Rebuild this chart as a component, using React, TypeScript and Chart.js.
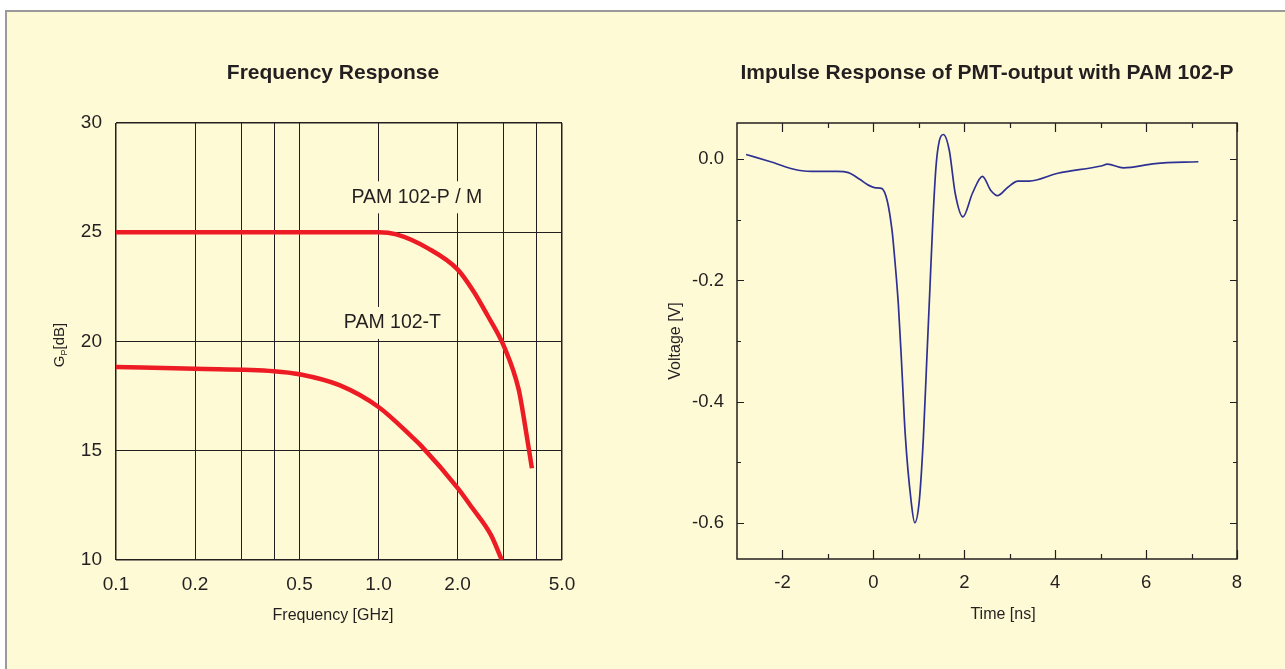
import React, { useEffect, useRef } from "react";
import { Chart, registerables } from "chart.js";

Chart.register(...registerables);

// ---------- data: frequency response ----------
const freqPM = [0.1, 0.2, 0.5, 1.0, 1.17, 1.55, 2.0, 2.3, 2.6, 3.0, 3.42, 3.6, 3.84];
const gainPM = [25, 25, 25, 25, 24.9, 24.25, 23.3, 22.3, 21.2, 19.8, 17.8, 16.3, 14.2];
const freqT = [0.1, 0.2, 0.4, 0.5, 0.71, 1.0, 1.35, 1.46, 2.0, 2.27, 2.68, 2.95];
const gainT = [18.83, 18.75, 18.64, 18.5, 18.0, 17.0, 15.6, 15.2, 13.3, 12.4, 11.15, 10.0];
const freqGrid = [0.1, 0.2, 0.3, 0.4, 0.5, 1, 2, 3, 4, 5];
const freqLabeled = [0.1, 0.2, 0.5, 1, 2, 5];
const gainTicks = [10, 15, 20, 25, 30];
const labelPM = { text: "PAM 102-P / M", f: 1.4, g: 26.6 };
const labelT = { text: "PAM 102-T", f: 1.13, g: 20.85 };

// ---------- data: impulse response ----------
const timeNs = [
  -2.8, -2.26, -1.65, -1.21, -0.8, -0.55, -0.3, -0.1, 0.05, 0.18, 0.31, 0.41, 0.44, 0.55, 0.62, 0.7,
  0.83, 0.91, 1.01, 1.1, 1.17, 1.24, 1.31, 1.38, 1.45, 1.54, 1.67, 1.8, 1.97, 2.18, 2.4, 2.58, 2.73,
  2.96, 3.18, 3.43, 4.06, 5.01, 5.15, 5.5, 6.2, 7.15,
];
const voltV = [
  0.008, -0.004, -0.018, -0.02, -0.02, -0.022, -0.033, -0.043, -0.047, -0.048, -0.07, -0.117, -0.139,
  -0.24, -0.335, -0.453, -0.564, -0.6, -0.564, -0.46, -0.34, -0.22, -0.1, -0.01, 0.03, 0.041, 0.015,
  -0.056, -0.095, -0.056, -0.028, -0.051, -0.06, -0.046, -0.036, -0.036, -0.023, -0.011, -0.008,
  -0.014, -0.007, -0.004,
];
const timeMajor = [-2, 0, 2, 4, 6, 8];
const timeMinor = [-1, 1, 3, 5, 7];
const voltMajor = [-0.6, -0.4, -0.2, 0];
const voltMinor = [-0.5, -0.3, -0.1];

const YELLOW = "#fffad6";
const INK = "#231f20";
const RED = "#ed1c24";
const BLUE = "#2e3192";
const FF = '"Liberation Sans", Arial, Helvetica, sans-serif';

function drawText(ctx: CanvasRenderingContext2D, text: string, x: number, y: number, font: string, rot = 0) {
  ctx.save();
  ctx.translate(x, y);
  if (rot) ctx.rotate(rot);
  ctx.font = font;
  ctx.fillStyle = INK;
  ctx.textAlign = "center";
  ctx.textBaseline = "middle";
  ctx.fillText(text, 0, 0);
  ctx.restore();
}

const leftPlugin = {
  id: "leftDeco",
  beforeDatasetsDraw(chart: any) {
    const ctx = chart.ctx as CanvasRenderingContext2D;
    const xs = chart.scales.x;
    const ys = chart.scales.y;
    for (const l of [labelPM, labelT]) {
      const cx = xs.getPixelForValue(l.f);
      const cy = ys.getPixelForValue(l.g);
      ctx.save();
      ctx.font = `19.5px ${FF}`;
      const w = ctx.measureText(l.text).width + 16;
      ctx.fillStyle = YELLOW;
      ctx.fillRect(cx - w / 2, cy - 16, w, 32);
      ctx.restore();
      drawText(ctx, l.text, cx, cy, `19.5px ${FF}`);
    }
  },
  afterDraw(chart: any) {
    const ctx = chart.ctx as CanvasRenderingContext2D;
    const a = chart.chartArea;
    const cx = (a.left + a.right) / 2;
    drawText(ctx, "Frequency Response", cx - 6, 73, `bold 21px ${FF}`);
    drawText(ctx, "Frequency [GHz]", cx - 6, 616, `16px ${FF}`);
    // G_P[dB] rotated with subscript
    ctx.save();
    ctx.translate(59, 345);
    ctx.rotate(-Math.PI / 2);
    ctx.fillStyle = INK;
    ctx.textBaseline = "alphabetic";
    ctx.textAlign = "left";
    const big = `15px ${FF}`;
    const small = `9px ${FF}`;
    ctx.font = big;
    const wG = ctx.measureText("G").width;
    const wB = ctx.measureText("[dB]").width;
    ctx.font = small;
    const wP = ctx.measureText("P").width;
    let x0 = -(wG + wP + wB) / 2;
    const base = 5;
    ctx.font = big;
    ctx.fillText("G", x0, base);
    x0 += wG;
    ctx.font = small;
    ctx.fillText("P", x0, base + 3);
    x0 += wP;
    ctx.font = big;
    ctx.fillText("[dB]", x0, base);
    ctx.restore();
  },
};

const rightPlugin = {
  id: "rightDeco",
  afterDraw(chart: any) {
    const ctx = chart.ctx as CanvasRenderingContext2D;
    const a = chart.chartArea;
    const xs = chart.scales.x;
    const ys = chart.scales.y;
    ctx.save();
    ctx.strokeStyle = INK;
    ctx.lineWidth = 1.5;
    ctx.strokeRect(a.left, a.top, a.right - a.left, a.bottom - a.top);
    ctx.lineWidth = 1.2;
    ctx.beginPath();
    const tx = (vals: number[], len: number) => {
      for (const v of vals) {
        const px = Math.round(xs.getPixelForValue(v)) + 0.5;
        ctx.moveTo(px, a.bottom);
        ctx.lineTo(px, a.bottom - len);
        ctx.moveTo(px, a.top);
        ctx.lineTo(px, a.top + len);
      }
    };
    const ty = (vals: number[], len: number) => {
      for (const v of vals) {
        const py = Math.round(ys.getPixelForValue(v)) + 0.5;
        ctx.moveTo(a.left, py);
        ctx.lineTo(a.left + len, py);
        ctx.moveTo(a.right, py);
        ctx.lineTo(a.right - len, py);
      }
    };
    tx(timeMajor, 9);
    tx(timeMinor, 5);
    ty(voltMajor, 7);
    ty(voltMinor, 4);
    ctx.stroke();
    ctx.restore();
    const cx = (a.left + a.right) / 2;
    drawText(ctx, "Impulse Response of PMT-output with PAM 102-P", cx, 73, `bold 21px ${FF}`);
    drawText(ctx, "Time [ns]", cx + 16, 615, `16px ${FF}`);
    drawText(ctx, "Voltage [V]", 36, 341, `16px ${FF}`, -Math.PI / 2);
  },
};

export default function App() {
  const leftRef = useRef<HTMLCanvasElement>(null);
  const rightRef = useRef<HTMLCanvasElement>(null);

  useEffect(() => {
    document.body.style.margin = "0";
    document.body.style.overflow = "hidden";
    const tickFont = { family: FF, size: 19 };
    const edgeW = (edges: number[]) => (c: any) => (c.tick && edges.includes(c.tick.value) ? 1.5 : 1);

    const left = new Chart(leftRef.current!, {
      type: "line",
      data: {
        datasets: [
          {
            label: "PAM 102-P / M",
            data: freqPM.map((f, i) => ({ x: f, y: gainPM[i] })),
            borderColor: RED,
            borderWidth: 4.5,
            pointRadius: 0,
            cubicInterpolationMode: "monotone",
            fill: false,
          },
          {
            label: "PAM 102-T",
            data: freqT.map((f, i) => ({ x: f, y: gainT[i] })),
            borderColor: RED,
            borderWidth: 4.5,
            pointRadius: 0,
            cubicInterpolationMode: "monotone",
            fill: false,
          },
        ],
      },
      options: {
        animation: false,
        responsive: false,
        maintainAspectRatio: false,
        layout: { padding: { left: 0, right: 78, top: 123, bottom: 49 } },
        plugins: { legend: { display: false }, tooltip: { enabled: false }, title: { display: false } },
        scales: {
          x: {
            type: "logarithmic",
            min: 0.1,
            max: 5,
            afterBuildTicks: (s: any) => {
              s.ticks = freqGrid.map((v) => ({ value: v }));
            },
            afterFit: (s: any) => {
              s.height = 60;
            },
            ticks: {
              autoSkip: false,
              maxRotation: 0,
              minRotation: 0,
              padding: 13,
              color: INK,
              font: tickFont,
              callback: (v: any) => (freqLabeled.includes(Number(v)) ? Number(v).toFixed(1) : ""),
            },
            grid: { color: INK, lineWidth: edgeW([0.1, 5]), drawTicks: false },
            border: { display: false },
          },
          y: {
            type: "linear",
            min: 10,
            max: 30,
            afterBuildTicks: (s: any) => {
              s.ticks = gainTicks.map((v) => ({ value: v }));
            },
            afterFit: (s: any) => {
              s.width = 116;
            },
            ticks: { padding: 14, color: INK, font: tickFont },
            grid: { color: INK, lineWidth: edgeW([10, 30]), drawTicks: false },
            border: { display: false },
          },
        },
      },
      plugins: [leftPlugin],
    } as any);

    const right = new Chart(rightRef.current!, {
      type: "line",
      data: {
        datasets: [
          {
            label: "Impulse",
            data: timeNs.map((t, i) => ({ x: t, y: voltV[i] })),
            borderColor: BLUE,
            borderWidth: 1.7,
            pointRadius: 0,
            cubicInterpolationMode: "monotone",
            fill: false,
          },
        ],
      },
      options: {
        animation: false,
        responsive: false,
        maintainAspectRatio: false,
        layout: { padding: { left: 0, right: 48, top: 123, bottom: 50 } },
        plugins: { legend: { display: false }, tooltip: { enabled: false }, title: { display: false } },
        scales: {
          x: {
            type: "linear",
            min: -3,
            max: 8,
            afterBuildTicks: (s: any) => {
              s.ticks = timeMajor.map((v) => ({ value: v }));
            },
            afterFit: (s: any) => {
              s.height = 60;
            },
            ticks: { autoSkip: false, maxRotation: 0, padding: 13, color: INK, font: { family: FF, size: 18.5 } },
            grid: { display: false, drawTicks: false },
            border: { display: false },
          },
          y: {
            type: "linear",
            min: -0.66,
            max: 0.06,
            afterBuildTicks: (s: any) => {
              s.ticks = voltMajor.map((v) => ({ value: v }));
            },
            afterFit: (s: any) => {
              s.width = 97;
            },
            ticks: {
              padding: 13,
              color: INK,
              font: { family: FF, size: 18.5 },
              callback: (v: any) => Number(v).toFixed(1),
            },
            grid: { display: false, drawTicks: false },
            border: { display: false },
          },
        },
      },
      plugins: [rightPlugin],
    } as any);

    return () => {
      left.destroy();
      right.destroy();
    };
  }, []);

  return (
    <div style={{ position: "absolute", left: 0, top: 0, width: 1285, height: 669, overflow: "hidden", background: "#fff" }}>
      <div
        style={{
          position: "absolute",
          left: 5,
          top: 10,
          right: 0,
          bottom: 0,
          background: YELLOW,
          borderTop: "2px solid #9a9a9a",
          borderLeft: "2px solid #9a9a9a",
        }}
      />
      <canvas ref={leftRef} width={640} height={669} style={{ position: "absolute", left: 0, top: 0 }} />
      <canvas ref={rightRef} width={645} height={669} style={{ position: "absolute", left: 640, top: 0 }} />
    </div>
  );
}
